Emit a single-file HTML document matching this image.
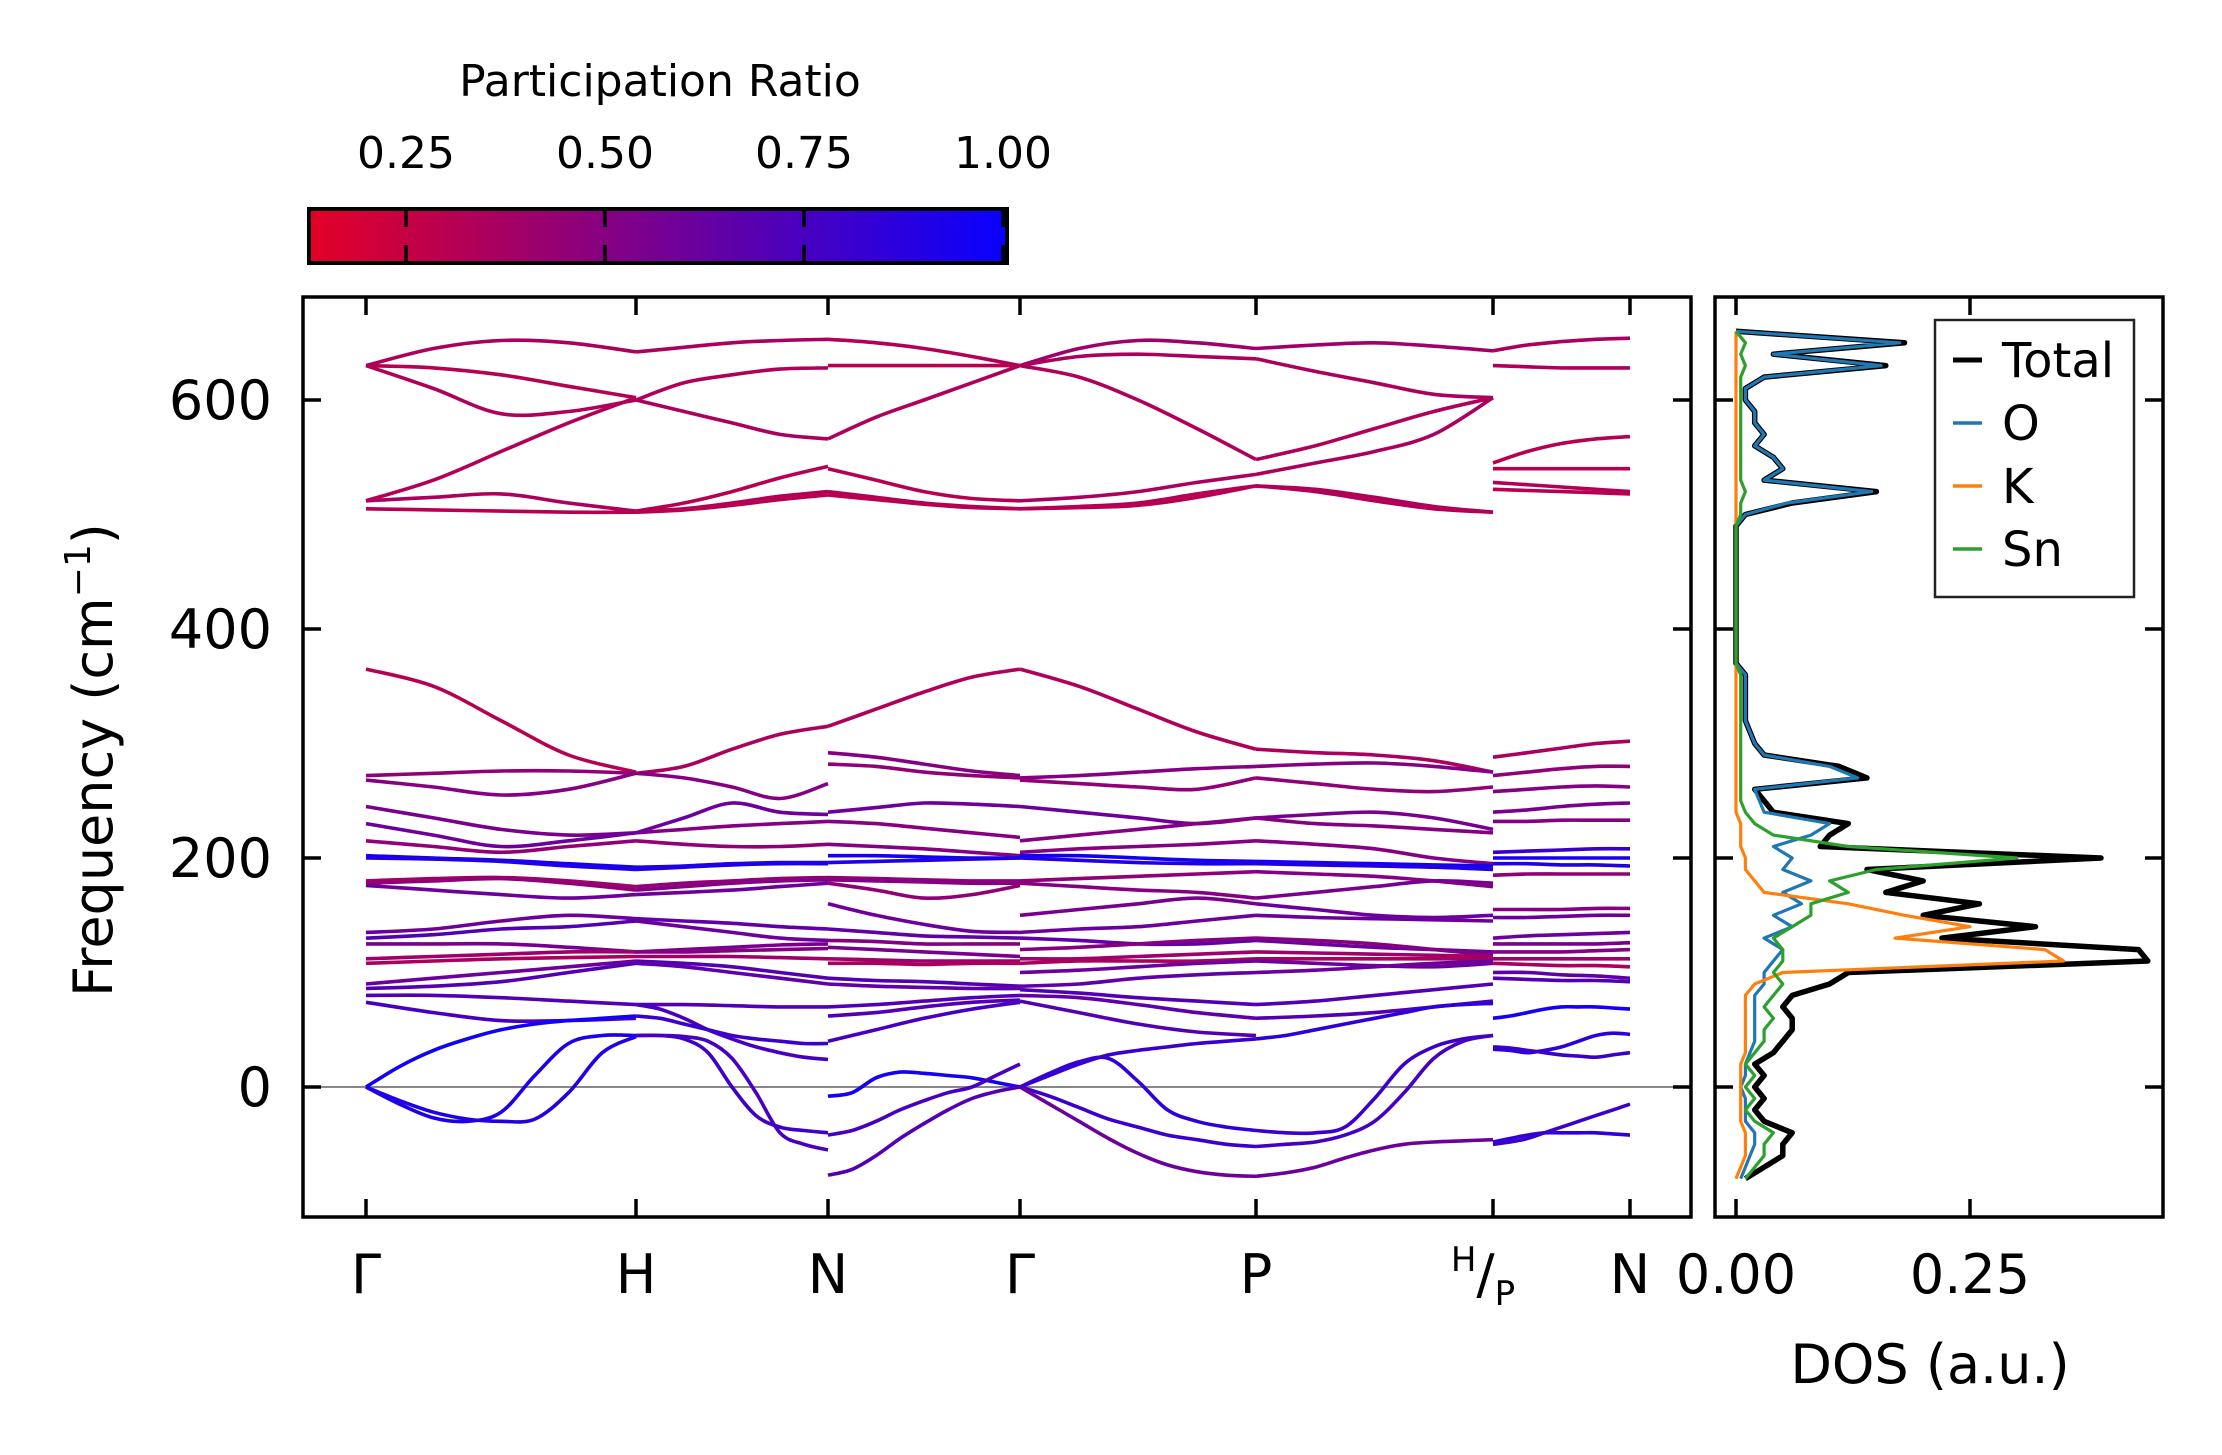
<!DOCTYPE html>
<html><head><meta charset="utf-8"><style>
html,body{margin:0;padding:0;background:#fff;}
svg{display:block;font-family:"DejaVu Sans","Liberation Sans",sans-serif;}
</style></head><body>
<svg id="fig" width="2222" height="1455" viewBox="0 0 2222 1455" xmlns="http://www.w3.org/2000/svg">
<defs>
<linearGradient id="cbgrad" x1="0" x2="1" y1="0" y2="0">
<stop offset="0" stop-color="rgb(228,0,38)"/><stop offset="1" stop-color="rgb(8,0,255)"/>
</linearGradient>
<clipPath id="mainclip"><rect x="303" y="297" width="1388" height="920"/></clipPath>
<clipPath id="dosclip"><rect x="1715" y="297" width="448" height="920"/></clipPath>
</defs>
<g id="colorbar">
<text x="660" y="96" font-size="44" text-anchor="middle">Participation Ratio</text>
<rect x="309" y="209" width="698" height="54" fill="url(#cbgrad)" stroke="#000" stroke-width="4"/>
</g>
<g id="main"></g>
<g id="dos"></g>
</svg>
<script>
// ---------- data ----------
const kLabels = ["Γ","H","N","Γ","P","H/P","N"];
const cbTicks = [0.25,0.50,0.75,1.00];
const cbTickLabels = ["0.25","0.50","0.75","1.00"];
const yTicks = [0,200,400,600];
const dosTicks = [0.00,0.25];
const dosTickLabels = ["0.00","0.25"];
// bands per segment (frequency samples uniformly spaced along segment)
const bandsGH = [
[630,645,652,650,642],[630,628,622,612,602],[630,610,588,590,600],[512,530,555,580,602],[512,515,518,510,503],[505,504,503,502,502],
[365,350,320,290,275],[272,274,276,276,274],[268,262,255,260,274],[245,235,225,220,222],[230,220,210,215,222],[215,210,205,210,215],
[202,200,198,195,192],[200,199,197,193,190],[180,182,183,180,175],[178,180,182,178,172],[176,172,168,165,168],[135,138,145,150,147],
[130,133,138,140,145],[125,125,125,122,118],[112,114,116,118,118],[108,110,112,113,114],[90,95,100,105,110],[86,88,92,100,108],
[80,80,78,75,72],[74,65,58,58,60],
[0,-15,-27,-30,-22,10,38,45,45],[0,-12,-22,-28,-30,-28,-5,30,44],[0,18,32,42,50,55,58,60,62]];
const prGH = [0.35,0.3,0.33,0.32,0.35,0.3,0.3,0.45,0.5,0.55,0.6,0.45,0.95,0.9,0.4,0.45,0.6,0.6,0.7,0.55,0.4,0.35,0.6,0.7,0.7,0.75,0.92,0.9,0.97];
const bandsHN = [
[642,646,650,652,653],[600,615,622,627,628],[600,590,580,570,566],[503,505,510,516,520],[502,504,508,513,517],[503,510,520,532,542],
[274,280,295,308,315],[274,270,262,252,265],[222,225,228,230,232],[222,235,248,240,238],[215,212,210,210,212],[192,193,195,196,196],
[190,192,194,195,195],[175,178,180,182,183],[172,175,178,180,181],[168,170,172,175,178],[147,145,143,140,138],[145,140,135,130,128],
[118,120,122,124,125],[118,118,119,120,121],[114,114,114,113,112],[110,108,105,100,95],[108,105,100,95,90],[72,72,71,70,70],
[72,68,60,50,42,35,30,26,24],[62,60,55,50,45,42,40,38,38],
[45,45,42,30,0,-25,-35,-38,-40],[45,45,44,40,25,-5,-40,-50,-55]];
const prHN = [0.35,0.33,0.35,0.32,0.3,0.3,0.35,0.5,0.5,0.6,0.45,0.9,0.92,0.45,0.5,0.6,0.65,0.6,0.55,0.5,0.4,0.7,0.65,0.7,0.75,0.8,0.78,0.75];
const bandsNG = [
[653,650,645,638,630],[630,630,630,630,630],[566,585,600,615,630],[540,530,520,514,512],[520,515,510,507,505],[517,513,509,506,505],
[315,330,345,358,365],[292,288,282,276,272],[282,280,275,272,270],[240,244,248,247,245],[232,230,226,222,218],[212,210,208,205,202],
[202,202,201,200,200],[196,197,198,199,200],[183,182,181,180,180],[181,180,179,178,178],[178,172,165,168,176],[160,150,142,136,135],
[138,135,132,131,130],[128,127,125,125,125],[122,120,118,116,114],[112,111,110,110,110],[108,108,107,108,108],[95,93,92,90,88],
[90,88,87,86,86],[70,72,75,78,80],[62,65,70,74,76],[40,50,60,68,74],
[-8,-5,8,13,12,10,8,4,0],[-42,-38,-30,-20,-12,-5,0,10,20],[-77,-72,-60,-45,-32,-20,-10,-4,0]];
const prNG = [0.32,0.3,0.33,0.3,0.32,0.3,0.33,0.5,0.45,0.6,0.5,0.5,0.95,0.9,0.45,0.5,0.45,0.6,0.65,0.5,0.55,0.4,0.35,0.7,0.65,0.7,0.7,0.75,0.95,0.75,0.7];
const bandsGP = [
[630,645,652,650,645],[630,620,600,575,548],[630,638,640,638,636],[512,515,520,528,535],[505,507,510,518,525],[505,506,508,515,525],
[365,350,330,310,295],[270,272,275,278,280],[268,265,262,260,270],[245,240,235,230,235],[215,220,225,230,235],[205,208,210,212,215],
[202,202,200,198,197],[200,198,196,195,195],[180,182,184,186,188],[178,175,172,170,165],[150,155,160,165,160],[135,138,140,145,150],
[130,128,125,125,128],[120,122,125,128,130],[112,112,114,116,118],[108,110,110,110,112],[100,102,105,108,110],[88,90,95,98,100],
[85,82,78,75,72],[80,78,72,65,60],[75,65,55,48,45],
[0,12,22,25,5,-20,-30,-35,-38],[0,-8,-18,-28,-35,-42,-46,-50,-52],[0,-15,-30,-45,-58,-68,-74,-77,-78],[0,10,20,28,32,35,38,40,42]];
const prGP = [0.4,0.33,0.35,0.35,0.32,0.3,0.33,0.5,0.45,0.6,0.5,0.5,0.97,0.9,0.45,0.5,0.55,0.6,0.65,0.5,0.4,0.35,0.6,0.65,0.7,0.65,0.7,0.85,0.8,0.6,0.8];
const bandsPH = [
[645,648,650,647,643],[636,625,615,605,602],[548,560,575,590,602],[535,545,555,570,602],[525,520,512,505,502],[525,522,515,507,502],
[295,292,290,285,275],[280,282,283,280,275],[270,265,260,258,262],[235,238,240,235,225],[235,230,228,225,222],[215,212,208,200,195],
[197,196,195,194,193],[195,194,193,192,190],[188,186,184,180,175],[165,170,175,180,178],[160,155,150,148,150],[150,148,147,146,145],
[128,125,122,120,118],[130,128,125,120,115],[118,117,116,115,114],[112,112,112,112,112],[110,108,106,105,108],[100,102,105,108,110],
[72,75,80,85,90],[60,62,65,70,75],
[-38,-40,-40,-35,-10,20,35,42,45],[-52,-50,-48,-42,-30,-5,25,40,45],[-78,-75,-70,-62,-55,-50,-48,-47,-46],[42,45,50,55,60,65,70,72,73]];
const prPH = [0.4,0.35,0.33,0.35,0.33,0.32,0.35,0.5,0.45,0.55,0.5,0.5,0.95,0.9,0.5,0.55,0.6,0.6,0.6,0.5,0.4,0.35,0.6,0.6,0.7,0.7,0.8,0.75,0.6,0.85];
const bandsPN = [
[643,648,651,653,654],[630,629,628,628,628],[545,555,562,566,568],[540,540,540,540,540],[528,526,524,522,520],[522,521,520,519,518],
[288,292,296,300,302],[272,275,278,280,280],[258,260,262,263,262],[240,242,245,247,248],[232,232,233,233,233],[205,206,207,208,208],
[200,200,200,200,200],[195,195,194,194,193],[185,186,186,186,186],[155,155,155,156,156],[148,148,149,150,150],[130,132,133,134,135],
[125,125,125,125,126],[118,118,118,119,120],[112,112,112,112,112],[108,107,106,106,105],[100,100,98,97,95],[95,94,93,93,92],
[60,62,65,68,70,70,70,69,68],[33,32,30,32,35,40,45,47,46],[35,34,32,30,28,27,26,28,30],
[-48,-45,-42,-40,-40,-40,-40,-41,-42],[-50,-48,-45,-40,-35,-30,-25,-20,-15]];
const prPN = [0.35,0.33,0.3,0.3,0.32,0.3,0.35,0.45,0.5,0.55,0.5,0.8,0.95,0.9,0.45,0.5,0.6,0.6,0.55,0.5,0.4,0.35,0.65,0.7,0.95,0.85,0.8,0.85,0.8];
// DOS grid
const dosFreq = [-80,-70,-60,-50,-40,-30,-20,-10,0,10,20,30,40,50,60,70,80,90,100,110,120,130,140,150,160,170,180,190,200,210,220,230,240,250,260,270,280,290,300,310,320,330,340,350,360,370,380,390,400,410,420,430,440,450,460,470,480,490,500,510,520,530,540,550,560,570,580,590,600,610,620,630,640,650,660];
const dosTotal = [0.01,0.03,0.05,0.05,0.06,0.03,0.02,0.03,0.02,0.03,0.02,0.04,0.05,0.06,0.06,0.05,0.06,0.1,0.12,0.44,0.43,0.22,0.32,0.2,0.26,0.16,0.2,0.14,0.39,0.09,0.1,0.12,0.04,0.03,0.02,0.14,0.11,0.03,0.02,0.015,0.01,0.01,0.01,0.01,0.01,0,0,0,0,0,0,0,0,0,0,0,0,0,0.01,0.06,0.15,0.03,0.05,0.04,0.02,0.03,0.02,0.02,0.01,0.01,0.03,0.16,0.04,0.18,0];
const dosO = [0.005,0.01,0.015,0.02,0.02,0.01,0.01,0.01,0.005,0.01,0.01,0.015,0.02,0.02,0.02,0.02,0.02,0.03,0.03,0.04,0.05,0.03,0.06,0.04,0.07,0.05,0.08,0.05,0.06,0.04,0.08,0.1,0.03,0.025,0.02,0.13,0.1,0.03,0.02,0.015,0.01,0.01,0.01,0.01,0.01,0,0,0,0,0,0,0,0,0,0,0,0,0,0.01,0.055,0.145,0.03,0.05,0.04,0.02,0.03,0.02,0.02,0.01,0.01,0.03,0.155,0.04,0.175,0];
const dosK = [0.0,0.005,0.01,0.01,0.01,0.005,0.005,0.005,0.005,0.005,0.005,0.01,0.01,0.01,0.01,0.01,0.01,0.02,0.05,0.35,0.33,0.17,0.25,0.18,0.12,0.03,0.02,0.01,0.01,0.005,0.005,0.005,0,0,0,0,0,0,0,0,0,0,0,0,0,0,0,0,0,0,0,0,0,0,0,0,0,0,0,0,0,0,0,0,0,0,0,0,0,0,0,0,0,0,0];
const dosSn = [0.01,0.02,0.03,0.03,0.04,0.02,0.01,0.02,0.01,0.02,0.01,0.02,0.03,0.03,0.04,0.03,0.04,0.05,0.04,0.05,0.05,0.04,0.06,0.08,0.08,0.12,0.1,0.15,0.3,0.12,0.04,0.02,0.01,0.005,0.005,0.005,0.005,0.005,0.005,0.005,0.005,0.005,0.005,0.005,0.005,0,0,0,0,0,0,0,0,0,0,0,0,0,0.005,0.005,0.01,0.005,0.005,0.005,0.005,0.005,0.005,0.005,0.005,0.005,0.005,0.01,0.005,0.01,0];
const legendNames = ["Total","O","K","Sn"];
const legendColors = ["#000000","#1f77b4","#ff7f0e","#2ca02c"];

// ---------- geometry ----------
const NS="http://www.w3.org/2000/svg";
const kX = [366,636,828,1020,1256,1493,1630];
const Y = f => 1087 - f*1.145;
const DX = v => 1736 + v*936;
const CBX = v => 605 + (v-0.5)*796;
function el(tag, attrs, parent){const e=document.createElementNS(NS,tag);for(const k in attrs)e.setAttribute(k,attrs[k]);parent.appendChild(e);return e;}
function prColor(p){let t=(p-0.125)/0.875;t=Math.max(0,Math.min(1,t));
 const r=Math.round(228+(8-228)*t),b=Math.round(38+(255-38)*t);return `rgb(${r},0,${b})`;}
function smoothPath(pts){let d=`M${pts[0][0].toFixed(1)},${pts[0][1].toFixed(1)}`;
 for(let i=0;i<pts.length-1;i++){const p0=pts[Math.max(0,i-1)],p1=pts[i],p2=pts[i+1],p3=pts[Math.min(pts.length-1,i+2)];
  const c1=[p1[0]+(p2[0]-p0[0])/6,p1[1]+(p2[1]-p0[1])/6],c2=[p2[0]-(p3[0]-p1[0])/6,p2[1]-(p3[1]-p1[1])/6];
  d+=` C${c1[0].toFixed(1)},${c1[1].toFixed(1)} ${c2[0].toFixed(1)},${c2[1].toFixed(1)} ${p2[0].toFixed(1)},${p2[1].toFixed(1)}`;}
 return d;}

const main=document.getElementById('main');
const dos=document.getElementById('dos');
const cb=document.getElementById('colorbar');

// colorbar ticks
cbTicks.forEach((v,i)=>{
 const x=CBX(v);
 const t1=el('line',{x1:x,x2:x,y1:209,y2:227,stroke:'#000','stroke-width':3.5},cb);
 
 
 const t2=el('line',{x1:x,x2:x,y1:245,y2:263,stroke:'#000','stroke-width':3.5},cb);
 
 
 const tx=el('text',{x:x,y:168,'font-size':44,'text-anchor':'middle'},cb);
 tx.textContent=cbTickLabels[i];
 
 
});

// zero line
const zl=el('line',{x1:303,x2:1691,y1:Y(0),y2:Y(0),stroke:'#888','stroke-width':2},main);



// bands
const segs=[[0,1,bandsGH,prGH],[1,2,bandsHN,prHN],[2,3,bandsNG,prNG],[3,4,bandsGP,prGP],[4,5,bandsPH,prPH],[5,6,bandsPN,prPN]];
const bg=el('g',{'clip-path':'url(#mainclip)'},main);


segs.forEach(([a,b,bands,prs])=>{
 const x0=kX[a],x1=kX[b];
 bands.forEach((vals,j)=>{
  const pts=vals.map((f,i)=>[x0+(x1-x0)*i/(vals.length-1),Y(f)]);
  const p=el('path',{d:smoothPath(pts),fill:'none',stroke:prColor(prs[j]),'stroke-width':3.6},bg);
  
  
 });
});

// main axes frame
const mf=el('rect',{x:303,y:297,width:1388,height:920,fill:'none',stroke:'#000','stroke-width':3.5},main);


kX.forEach((x,i)=>{
 el('line',{x1:x,x2:x,y1:1217,y2:1199,stroke:'#000','stroke-width':3.5},main);
 el('line',{x1:x,x2:x,y1:297,y2:315,stroke:'#000','stroke-width':3.5},main);
 let t;
 if(kLabels[i]==="H/P"){
  t=el('text',{x:x,y:1293,'font-size':54,'text-anchor':'middle'},main);
  t.innerHTML='<tspan font-size="34" dy="-22" dx="-10">H</tspan><tspan dy="22">/</tspan><tspan font-size="34" dy="12">P</tspan>';
 } else {
  t=el('text',{x:x,y:1293,'font-size':54,'text-anchor':'middle'},main);
  t.textContent=kLabels[i];
 }
 
 
});
yTicks.forEach(v=>{
 const y=Y(v);
 el('line',{x1:303,x2:321,y1:y,y2:y,stroke:'#000','stroke-width':3.5},main);
 el('line',{x1:1691,x2:1673,y1:y,y2:y,stroke:'#000','stroke-width':3.5},main);
 el('line',{x1:1715,x2:1733,y1:y,y2:y,stroke:'#000','stroke-width':3.5},dos);
 el('line',{x1:2163,x2:2145,y1:y,y2:y,stroke:'#000','stroke-width':3.5},dos);
 const t=el('text',{x:272,y:y+19,'font-size':54,'text-anchor':'end'},main);
 t.textContent=String(v);
 
 
});
const yl=el('text',{x:0,y:0,'font-size':54,'text-anchor':'middle',transform:'translate(112,760) rotate(-90)'},main);
yl.innerHTML='Frequency (cm<tspan font-size="36" dy="-22">−1</tspan><tspan dy="22">)</tspan>';



// DOS
const dg=el('g',{'clip-path':'url(#dosclip)'},dos);
[[dosTotal,'#000',5.5,'dos-total'],[dosO,'#1f77b4',3.2,'dos-o'],[dosK,'#ff7f0e',3.2,'dos-k'],[dosSn,'#2ca02c',3.2,'dos-sn']].forEach(([arr,c,w,n])=>{
 const pts=arr.map((v,i)=>[DX(v),Y(dosFreq[i])]);
 let d='M'+pts.map(p=>p[0].toFixed(1)+','+p[1].toFixed(1)).join(' L');
 const p=el('path',{d:d,fill:'none',stroke:c,'stroke-width':w,'stroke-linejoin':'round'},dg);
 
 
});
const df=el('rect',{x:1715,y:297,width:448,height:920,fill:'none',stroke:'#000','stroke-width':3.5},dos);


dosTicks.forEach((v,i)=>{
 const x=DX(v);
 el('line',{x1:x,x2:x,y1:1217,y2:1199,stroke:'#000','stroke-width':3.5},dos);
 el('line',{x1:x,x2:x,y1:297,y2:315,stroke:'#000','stroke-width':3.5},dos);
 const t=el('text',{x:x,y:1293,'font-size':54,'text-anchor':'middle'},dos);
 t.textContent=dosTickLabels[i];
 
 
});
const dl=el('text',{x:1930,y:1383,'font-size':54,'text-anchor':'middle'},dos);
dl.textContent='DOS (a.u.)';


// legend
const lg=el('g',{},dos);


el('rect',{x:1935,y:320,width:199,height:277,fill:'#fff',stroke:'#222','stroke-width':2.5},lg);
legendNames.forEach((n,i)=>{
 const y=360+i*63;
 el('line',{x1:1953,x2:1982,y1:y,y2:y,stroke:legendColors[i],'stroke-width':i===0?5:3.5},lg);
 const t=el('text',{x:2002,y:y+17,'font-size':48},lg);
 t.textContent=n;
 
 
});
</script>
</body></html>
